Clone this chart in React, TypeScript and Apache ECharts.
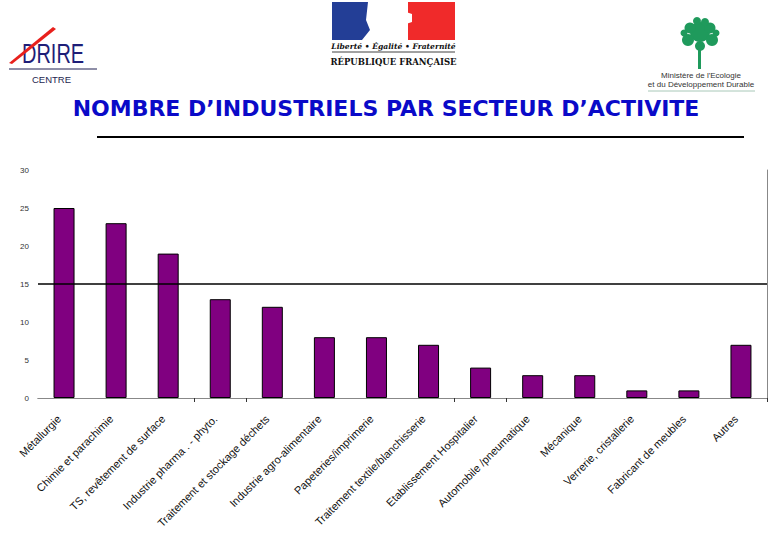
import React, { useEffect, useRef } from "react";
import * as echarts from "echarts";

const categories = [
  "Métallurgie",
  "Chimie et parachimie",
  "TS, revêtement de surface",
  "Industrie pharma . - phyto.",
  "Traitement et stockage déchets",
  "Industrie agro-alimentaire",
  "Papeteries/imprimerie",
  "Traitement textile/blanchisserie",
  "Etablissement Hospitalier",
  "Automobile /pneumatique",
  "Mécanique",
  "Verrerie, cristallerie",
  "Fabricant de meubles",
  "Autres",
];
const values = [25, 23, 19, 13, 12, 8, 8, 7, 4, 3, 3, 1, 1, 7];
const referenceLine = 15;
const yMin = 0;
const yMax = 30;
const yStep = 5;
const title = "NOMBRE D’INDUSTRIELS PAR SECTEUR D’ACTIVITE";
const visibleTicks = [3, 4, 8, 9];

export default function App() {
  const ref = useRef<HTMLDivElement>(null);
  useEffect(() => {
    if (!ref.current) return;
    const chart = echarts.init(ref.current, null, { renderer: "svg" });
    const green = "#1f9a5c";
    chart.setOption({
      animation: false,
      backgroundColor: "#ffffff",
      grid: { left: 38, right: 13, top: 170, bottom: 142, containLabel: false },
      xAxis: [
        {
          type: "category",
          data: categories,
          position: "bottom",
          axisLine: { show: true, lineStyle: { color: "#888888", width: 1 } },
          axisTick: {
            show: true,
            length: 4,
            interval: (i: number) => visibleTicks.includes(i),
            lineStyle: { color: "#333333" },
          },
          axisLabel: {
            rotate: 45,
            interval: 0,
            margin: 14,
            padding: [0, 7, 0, 0],
            fontFamily: "Liberation Sans",
            fontSize: 11,
            color: "#111111",
          },
        },
        {
          type: "category",
          data: categories,
          position: "top",
          axisLine: { show: true, lineStyle: { color: "#888888", width: 1 } },
          axisTick: { show: false },
          axisLabel: { show: false },
        },
      ],
      yAxis: [
        {
          type: "value",
          min: yMin,
          max: yMax,
          interval: yStep,
          axisLine: { show: false },
          axisTick: { show: false },
          splitLine: { show: false },
          axisLabel: {
            margin: 9,
            fontFamily: "Liberation Sans",
            fontSize: 8,
            color: "#333333",
          },
        },
        {
          type: "value",
          min: yMin,
          max: yMax,
          interval: yStep,
          position: "right",
          axisLine: { show: true, lineStyle: { color: "#888888", width: 1 } },
          axisTick: { show: false },
          splitLine: { show: false },
          axisLabel: { show: false },
        },
      ],
      series: [
        {
          type: "bar",
          data: values,
          barWidth: 21,
          itemStyle: { color: "#800080", borderColor: "#000000", borderWidth: 1 },
          markLine: {
            silent: true,
            symbol: "none",
            label: { show: false },
            lineStyle: { color: "#000000", width: 1.5, type: "solid" },
            data: [{ yAxis: referenceLine }],
          },
        },
      ],
      graphic: [
        // Title
        {
          type: "text",
          x: 386,
          y: 97,
          style: {
            text: title,
            align: "center",
            fontFamily: "DejaVu Sans",
            fontWeight: "bold",
            fontSize: 22,
            fill: "#0a0ac8",
          },
        },
        {
          type: "line",
          shape: { x1: 97, y1: 137, x2: 744, y2: 137 },
          style: { stroke: "#000000", lineWidth: 2 },
        },
        // DRIRE logo
        {
          type: "text",
          x: 22,
          y: 40,
          scaleX: 0.74,
          style: {
            text: "DRIRE",
            fontFamily: "Liberation Sans",
            fontSize: 27,
            fill: "#1e1e78",
          },
        },
        {
          type: "polygon",
          shape: { points: [[9, 63], [53, 27], [56, 29], [12, 64]] },
          style: { fill: "#e8201c" },
        },
        {
          type: "line",
          shape: { x1: 9, y1: 69, x2: 97, y2: 69 },
          style: { stroke: "#1e1e50", lineWidth: 1 },
        },
        {
          type: "text",
          x: 32,
          y: 74,
          style: {
            text: "CENTRE",
            fontFamily: "Liberation Sans",
            fontSize: 9.5,
            fill: "#1e1e50",
          },
        },
        // Marianne logo
        {
          type: "rect",
          shape: { x: 332, y: 2, width: 46, height: 38 },
          style: { fill: "#233e96" },
        },
        {
          type: "polygon",
          shape: {
            points: [[368, 2], [392, 2], [400, 10], [404, 22], [398, 30], [392, 40], [362, 40], [370, 30], [366, 20]],
          },
          style: { fill: "#ffffff" },
        },
        {
          type: "rect",
          shape: { x: 408, y: 2, width: 47, height: 38 },
          style: { fill: "#f02a2a" },
        },
        {
          type: "polygon",
          shape: { points: [[406, 12], [412, 14], [412, 22], [406, 24]] },
          style: { fill: "#ffffff" },
        },
        {
          type: "text",
          x: 393.5,
          y: 42,
          style: {
            text: "Liberté • Égalité • Fraternité",
            align: "center",
            fontFamily: "DejaVu Serif",
            fontStyle: "italic",
            fontWeight: "bold",
            fontSize: 7.6,
            fill: "#111111",
          },
        },
        {
          type: "line",
          shape: { x1: 332, y1: 52, x2: 455, y2: 52 },
          style: { stroke: "#111111", lineWidth: 0.8 },
        },
        {
          type: "text",
          x: 393.5,
          y: 57,
          style: {
            text: "RÉPUBLIQUE FRANÇAISE",
            align: "center",
            fontFamily: "DejaVu Serif",
            fontWeight: "bold",
            fontSize: 8.5,
            fill: "#111111",
          },
        },
        // Ministry logo (tree)
        {
          type: "rect",
          shape: { x: 698, y: 44, width: 3, height: 25 },
          style: { fill: green },
        },
        { type: "circle", shape: { cx: 700, cy: 32, r: 10 }, style: { fill: green } },
        { type: "circle", shape: { cx: 688, cy: 40, r: 6 }, style: { fill: green } },
        { type: "circle", shape: { cx: 712, cy: 40, r: 6 }, style: { fill: green } },
        { type: "circle", shape: { cx: 690, cy: 28, r: 5.5 }, style: { fill: green } },
        { type: "circle", shape: { cx: 710, cy: 28, r: 5.5 }, style: { fill: green } },
        { type: "circle", shape: { cx: 697, cy: 21, r: 4 }, style: { fill: green } },
        { type: "circle", shape: { cx: 705, cy: 22, r: 4 }, style: { fill: green } },
        { type: "circle", shape: { cx: 684, cy: 33, r: 3.5 }, style: { fill: green } },
        { type: "circle", shape: { cx: 716, cy: 33, r: 3.5 }, style: { fill: green } },
        { type: "circle", shape: { cx: 700, cy: 46, r: 5 }, style: { fill: green } },
        {
          type: "text",
          x: 701,
          y: 71,
          style: {
            text: "Ministère de l'Ecologie\net du Développement Durable",
            align: "center",
            fontFamily: "Liberation Sans",
            fontSize: 8,
            lineHeight: 9,
            fill: "#333333",
          },
        },
        {
          type: "line",
          shape: { x1: 648, y1: 91, x2: 755, y2: 91 },
          style: { stroke: "#a8c8b8", lineWidth: 1 },
        },
      ],
    });
    return () => chart.dispose();
  }, []);
  return (
    <div
      ref={ref}
      style={{ position: "fixed", left: 0, top: 0, width: 780, height: 540, background: "#fff" }}
    />
  );
}
